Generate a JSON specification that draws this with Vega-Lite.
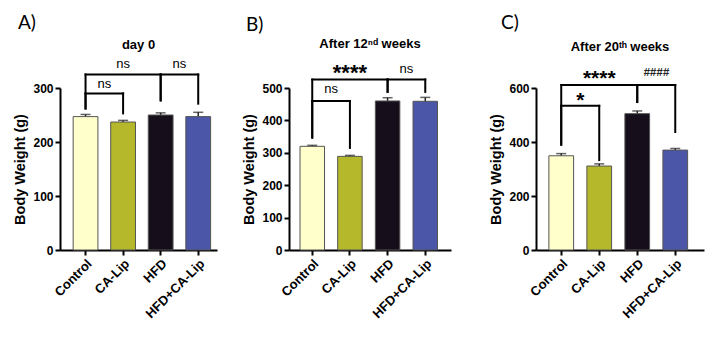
{
  "$schema": "https://vega.github.io/schema/vega-lite/v6.json",
  "background": "white",
  "padding": {"left": 12, "top": 13, "right": 5, "bottom": 5},
  "config": {
    "font": "Liberation Sans",
    "view": {"stroke": null},
    "axis": {"domainColor": "black", "domainWidth": 2, "tickColor": "black", "tickWidth": 2, "tickSize": 5, "labelFont": "Liberation Sans", "labelFontWeight": "bold", "labelFontSize": 12, "labelColor": "black", "labelPadding": 2, "labelOverlap": false, "titleFont": "Liberation Sans", "titleFontWeight": "bold", "titleFontSize": 14.5, "titleColor": "black", "titlePadding": 5, "grid": false},
    "axisX": {"labelAngle": -45, "title": null, "labelFontSize": 13}
  },
  "datasets": {
    "bars": [
      {"panel": "A", "group": "Control", "mean": 247, "err": 4},
      {"panel": "A", "group": "CA-Lip", "mean": 237, "err": 3},
      {"panel": "A", "group": "HFD", "mean": 250, "err": 4},
      {"panel": "A", "group": "HFD+CA-Lip", "mean": 247, "err": 8},
      {"panel": "B", "group": "Control", "mean": 320, "err": 3},
      {"panel": "B", "group": "CA-Lip", "mean": 289, "err": 3},
      {"panel": "B", "group": "HFD", "mean": 460, "err": 10},
      {"panel": "B", "group": "HFD+CA-Lip", "mean": 459, "err": 12},
      {"panel": "C", "group": "Control", "mean": 349, "err": 8},
      {"panel": "C", "group": "CA-Lip", "mean": 311, "err": 8},
      {"panel": "C", "group": "HFD", "mean": 505, "err": 10},
      {"panel": "C", "group": "HFD+CA-Lip", "mean": 370, "err": 6}
    ],
    "brackets": [
      {"panel": "A", "from": "Control", "to": "HFD", "y": 325, "yl": 262, "yr": 277, "label": "ns", "ly": 345, "span": 2},
      {"panel": "A", "from": "Control", "to": "CA-Lip", "y": 290, "yl": 262, "yr": 253, "label": "ns", "ly": 308, "span": 1},
      {"panel": "A", "from": "HFD", "to": "HFD+CA-Lip", "y": 325, "yl": 277, "yr": 271, "label": "ns", "ly": 345, "span": 1},
      {"panel": "B", "from": "Control", "to": "HFD", "y": 526, "yl": 349, "yr": 488, "label": "****", "ly": 562, "span": 2},
      {"panel": "B", "from": "Control", "to": "CA-Lip", "y": 460, "yl": 346, "yr": 315, "label": "ns", "ly": 496, "span": 1},
      {"panel": "B", "from": "HFD", "to": "HFD+CA-Lip", "y": 526, "yl": 488, "yr": 488, "label": "ns", "ly": 560, "span": 1},
      {"panel": "C", "from": "Control", "to": "HFD", "y": 611, "yl": 390, "yr": 548, "label": "****", "ly": 652, "span": 2},
      {"panel": "C", "from": "Control", "to": "CA-Lip", "y": 534, "yl": 390, "yr": 333, "label": "*", "ly": 570, "span": 1},
      {"panel": "C", "from": "HFD", "to": "HFD+CA-Lip", "y": 611, "yl": 548, "yr": 437, "label": "####", "ly": 654, "span": 1}
    ]
  },
  "spacing": 24,
  "hconcat": [
    {
      "title": {"text": "A)", "anchor": "start", "font": "Lato", "fontSize": 19, "fontWeight": "normal", "color": "black", "offset": 6, "dx": 5},
      "vconcat": [
        {
          "title": {"text": "day 0", "fontSize": 13, "fontWeight": "bold", "color": "black", "frame": "group", "baseline": "alphabetic", "offset": -4},
          "width": 157,
          "height": 162,
          "layer": [
            {
              "data": {"name": "bars"},
              "transform": [{"filter": "datum.panel === 'A'"}],
              "mark": {"type": "errorbar", "ticks": {"size": 10, "thickness": 1.5, "color": "#222"}, "rule": {"strokeWidth": 1.5, "color": "#222"}},
              "encoding": {
                "x": {"field": "group", "type": "nominal", "scale": {"domain": ["Control", "CA-Lip", "HFD", "HFD+CA-Lip"], "paddingInner": 0, "paddingOuter": 0.09, "align": 1}, "axis": {"title": null}},
                "y": {"field": "mean", "type": "quantitative", "scale": {"domain": [0, 300], "nice": false}, "axis": {"title": "Body Weight (g)", "values": [0, 100, 200, 300]}},
                "yError": {"field": "err"}
              }
            },
            {
              "data": {"name": "bars"},
              "transform": [{"filter": "datum.panel === 'A'"}],
              "mark": {"type": "bar", "width": {"band": 0.66}, "stroke": "#555", "strokeWidth": 1},
              "encoding": {
                "x": {"field": "group", "type": "nominal", "scale": {"domain": ["Control", "CA-Lip", "HFD", "HFD+CA-Lip"], "paddingInner": 0, "paddingOuter": 0.09, "align": 1}, "axis": {"title": null}},
                "y": {"field": "mean", "type": "quantitative", "scale": {"domain": [0, 300], "nice": false}, "axis": {"title": "Body Weight (g)", "values": [0, 100, 200, 300]}},
                "fill": {"field": "group", "type": "nominal", "scale": {"domain": ["Control", "CA-Lip", "HFD", "HFD+CA-Lip"], "range": ["#FFFFCC", "#B5B82B", "#160E1A", "#4B56A8"]}, "legend": null}
              }
            },
            {
              "data": {"name": "brackets"},
              "transform": [{"filter": "datum.panel === 'A'"}],
              "mark": {"type": "rule", "strokeWidth": 2, "color": "black", "strokeCap": "square"},
              "encoding": {
                "x": {"field": "from", "type": "nominal", "scale": {"domain": ["Control", "CA-Lip", "HFD", "HFD+CA-Lip"], "paddingInner": 0, "paddingOuter": 0.09, "align": 1}, "axis": {"title": null}},
                "x2": {"field": "to"},
                "y": {"field": "y", "type": "quantitative", "scale": {"domain": [0, 300], "nice": false}, "axis": {"title": "Body Weight (g)", "values": [0, 100, 200, 300]}}
              }
            },
            {
              "data": {"name": "brackets"},
              "transform": [{"filter": "datum.panel === 'A'"}],
              "mark": {"type": "rule", "strokeWidth": 2, "color": "black", "strokeCap": "square"},
              "encoding": {
                "x": {"field": "from", "type": "nominal", "scale": {"domain": ["Control", "CA-Lip", "HFD", "HFD+CA-Lip"], "paddingInner": 0, "paddingOuter": 0.09, "align": 1}, "axis": {"title": null}},
                "y": {"field": "y", "type": "quantitative", "scale": {"domain": [0, 300], "nice": false}, "axis": {"title": "Body Weight (g)", "values": [0, 100, 200, 300]}},
                "y2": {"field": "yl"}
              }
            },
            {
              "data": {"name": "brackets"},
              "transform": [{"filter": "datum.panel === 'A'"}],
              "mark": {"type": "rule", "strokeWidth": 2, "color": "black", "strokeCap": "square"},
              "encoding": {
                "x": {"field": "to", "type": "nominal", "scale": {"domain": ["Control", "CA-Lip", "HFD", "HFD+CA-Lip"], "paddingInner": 0, "paddingOuter": 0.09, "align": 1}, "axis": {"title": null}},
                "y": {"field": "y", "type": "quantitative", "scale": {"domain": [0, 300], "nice": false}, "axis": {"title": "Body Weight (g)", "values": [0, 100, 200, 300]}},
                "y2": {"field": "yr"}
              }
            },
            {
              "data": {"name": "brackets"},
              "transform": [{"filter": "datum.panel === 'A' && datum.span === 1"}],
              "mark": {"type": "text", "fontSize": 13, "color": "black", "baseline": "middle"},
              "encoding": {
                "x": {"field": "to", "type": "nominal", "bandPosition": 0, "scale": {"domain": ["Control", "CA-Lip", "HFD", "HFD+CA-Lip"], "paddingInner": 0, "paddingOuter": 0.09, "align": 1}, "axis": {"title": null}},
                "y": {"field": "ly", "type": "quantitative", "scale": {"domain": [0, 300], "nice": false}, "axis": {"title": "Body Weight (g)", "values": [0, 100, 200, 300]}},
                "text": {"field": "label"}
              }
            },
            {
              "data": {"name": "brackets"},
              "transform": [{"filter": "datum.panel === 'A' && datum.span === 2"}],
              "mark": {"type": "text", "fontSize": 13, "color": "black", "baseline": "middle"},
              "encoding": {
                "x": {"field": "from", "type": "nominal", "bandPosition": 1.5, "scale": {"domain": ["Control", "CA-Lip", "HFD", "HFD+CA-Lip"], "paddingInner": 0, "paddingOuter": 0.09, "align": 1}, "axis": {"title": null}},
                "y": {"field": "ly", "type": "quantitative", "scale": {"domain": [0, 300], "nice": false}, "axis": {"title": "Body Weight (g)", "values": [0, 100, 200, 300]}},
                "text": {"field": "label"}
              }
            }
          ]
        }
      ]
    },
    {
      "spacing": 37,
      "hconcat": [
        {
          "title": {"text": "B)", "anchor": "start", "font": "Lato", "fontSize": 19, "fontWeight": "normal", "color": "black", "offset": 3, "dx": 4},
          "vconcat": [
            {
              "title": {"text": "After 12ⁿᵈ weeks", "fontSize": 13, "fontWeight": "bold", "color": "black", "frame": "group", "baseline": "alphabetic", "offset": 1},
              "width": 162,
              "height": 162,
              "layer": [
                {
                  "data": {"name": "bars"},
                  "transform": [{"filter": "datum.panel === 'B'"}],
                  "mark": {"type": "errorbar", "ticks": {"size": 10, "thickness": 1.5, "color": "#222"}, "rule": {"strokeWidth": 1.5, "color": "#222"}},
                  "encoding": {
                    "x": {"field": "group", "type": "nominal", "scale": {"domain": ["Control", "CA-Lip", "HFD", "HFD+CA-Lip"], "paddingInner": 0, "paddingOuter": 0.15, "align": 0.39}, "axis": {"title": null}},
                    "y": {"field": "mean", "type": "quantitative", "scale": {"domain": [0, 500], "nice": false}, "axis": {"title": "Body Weight (g)", "values": [0, 100, 200, 300, 400, 500]}},
                    "yError": {"field": "err"}
                  }
                },
                {
                  "data": {"name": "bars"},
                  "transform": [{"filter": "datum.panel === 'B'"}],
                  "mark": {"type": "bar", "width": {"band": 0.65}, "stroke": "#555", "strokeWidth": 1},
                  "encoding": {
                    "x": {"field": "group", "type": "nominal", "scale": {"domain": ["Control", "CA-Lip", "HFD", "HFD+CA-Lip"], "paddingInner": 0, "paddingOuter": 0.15, "align": 0.39}, "axis": {"title": null}},
                    "y": {"field": "mean", "type": "quantitative", "scale": {"domain": [0, 500], "nice": false}, "axis": {"title": "Body Weight (g)", "values": [0, 100, 200, 300, 400, 500]}},
                    "fill": {"field": "group", "type": "nominal", "scale": {"domain": ["Control", "CA-Lip", "HFD", "HFD+CA-Lip"], "range": ["#FFFFCC", "#B5B82B", "#160E1A", "#4B56A8"]}, "legend": null}
                  }
                },
                {
                  "data": {"name": "brackets"},
                  "transform": [{"filter": "datum.panel === 'B'"}],
                  "mark": {"type": "rule", "strokeWidth": 2, "color": "black", "strokeCap": "square"},
                  "encoding": {
                    "x": {"field": "from", "type": "nominal", "scale": {"domain": ["Control", "CA-Lip", "HFD", "HFD+CA-Lip"], "paddingInner": 0, "paddingOuter": 0.15, "align": 0.39}, "axis": {"title": null}},
                    "x2": {"field": "to"},
                    "y": {"field": "y", "type": "quantitative", "scale": {"domain": [0, 500], "nice": false}, "axis": {"title": "Body Weight (g)", "values": [0, 100, 200, 300, 400, 500]}}
                  }
                },
                {
                  "data": {"name": "brackets"},
                  "transform": [{"filter": "datum.panel === 'B'"}],
                  "mark": {"type": "rule", "strokeWidth": 2, "color": "black", "strokeCap": "square"},
                  "encoding": {
                    "x": {"field": "from", "type": "nominal", "scale": {"domain": ["Control", "CA-Lip", "HFD", "HFD+CA-Lip"], "paddingInner": 0, "paddingOuter": 0.15, "align": 0.39}, "axis": {"title": null}},
                    "y": {"field": "y", "type": "quantitative", "scale": {"domain": [0, 500], "nice": false}, "axis": {"title": "Body Weight (g)", "values": [0, 100, 200, 300, 400, 500]}},
                    "y2": {"field": "yl"}
                  }
                },
                {
                  "data": {"name": "brackets"},
                  "transform": [{"filter": "datum.panel === 'B'"}],
                  "mark": {"type": "rule", "strokeWidth": 2, "color": "black", "strokeCap": "square"},
                  "encoding": {
                    "x": {"field": "to", "type": "nominal", "scale": {"domain": ["Control", "CA-Lip", "HFD", "HFD+CA-Lip"], "paddingInner": 0, "paddingOuter": 0.15, "align": 0.39}, "axis": {"title": null}},
                    "y": {"field": "y", "type": "quantitative", "scale": {"domain": [0, 500], "nice": false}, "axis": {"title": "Body Weight (g)", "values": [0, 100, 200, 300, 400, 500]}},
                    "y2": {"field": "yr"}
                  }
                },
                {
                  "data": {"name": "brackets"},
                  "transform": [{"filter": "datum.panel === 'B' && datum.span === 1"}],
                  "mark": {"type": "text", "fontSize": 13, "color": "black", "baseline": "middle"},
                  "encoding": {
                    "x": {"field": "to", "type": "nominal", "bandPosition": 0, "scale": {"domain": ["Control", "CA-Lip", "HFD", "HFD+CA-Lip"], "paddingInner": 0, "paddingOuter": 0.15, "align": 0.39}, "axis": {"title": null}},
                    "y": {"field": "ly", "type": "quantitative", "scale": {"domain": [0, 500], "nice": false}, "axis": {"title": "Body Weight (g)", "values": [0, 100, 200, 300, 400, 500]}},
                    "text": {"field": "label"}
                  }
                },
                {
                  "data": {"name": "brackets"},
                  "transform": [{"filter": "datum.panel === 'B' && datum.span === 2"}],
                  "mark": {"type": "text", "fontSize": 22, "fontWeight": "bold", "color": "black", "baseline": "middle", "dy": 5},
                  "encoding": {
                    "x": {"field": "from", "type": "nominal", "bandPosition": 1.5, "scale": {"domain": ["Control", "CA-Lip", "HFD", "HFD+CA-Lip"], "paddingInner": 0, "paddingOuter": 0.15, "align": 0.39}, "axis": {"title": null}},
                    "y": {"field": "ly", "type": "quantitative", "scale": {"domain": [0, 500], "nice": false}, "axis": {"title": "Body Weight (g)", "values": [0, 100, 200, 300, 400, 500]}},
                    "text": {"field": "label"}
                  }
                }
              ]
            }
          ]
        },
        {
          "title": {"text": "C)", "anchor": "start", "font": "Lato", "fontSize": 19, "fontWeight": "normal", "color": "black", "offset": 8, "dx": 12},
          "vconcat": [
            {
              "title": {"text": "After 20ᵗʰ weeks", "fontSize": 13, "fontWeight": "bold", "color": "black", "frame": "group", "baseline": "alphabetic", "offset": 3},
              "width": 168,
              "height": 162,
              "layer": [
                {
                  "data": {"name": "bars"},
                  "transform": [{"filter": "datum.panel === 'C'"}],
                  "mark": {"type": "errorbar", "ticks": {"size": 10, "thickness": 1.5, "color": "#222"}, "rule": {"strokeWidth": 1.5, "color": "#222"}},
                  "encoding": {
                    "x": {"field": "group", "type": "nominal", "scale": {"domain": ["Control", "CA-Lip", "HFD", "HFD+CA-Lip"], "paddingInner": 0, "paddingOuter": 0.21, "align": 0.39}, "axis": {"title": null}},
                    "y": {"field": "mean", "type": "quantitative", "scale": {"domain": [0, 600], "nice": false}, "axis": {"title": "Body Weight (g)", "values": [0, 200, 400, 600]}},
                    "yError": {"field": "err"}
                  }
                },
                {
                  "data": {"name": "bars"},
                  "transform": [{"filter": "datum.panel === 'C'"}],
                  "mark": {"type": "bar", "width": {"band": 0.65}, "stroke": "#555", "strokeWidth": 1},
                  "encoding": {
                    "x": {"field": "group", "type": "nominal", "scale": {"domain": ["Control", "CA-Lip", "HFD", "HFD+CA-Lip"], "paddingInner": 0, "paddingOuter": 0.21, "align": 0.39}, "axis": {"title": null}},
                    "y": {"field": "mean", "type": "quantitative", "scale": {"domain": [0, 600], "nice": false}, "axis": {"title": "Body Weight (g)", "values": [0, 200, 400, 600]}},
                    "fill": {"field": "group", "type": "nominal", "scale": {"domain": ["Control", "CA-Lip", "HFD", "HFD+CA-Lip"], "range": ["#FFFFCC", "#B5B82B", "#160E1A", "#4B56A8"]}, "legend": null}
                  }
                },
                {
                  "data": {"name": "brackets"},
                  "transform": [{"filter": "datum.panel === 'C'"}],
                  "mark": {"type": "rule", "strokeWidth": 2, "color": "black", "strokeCap": "square"},
                  "encoding": {
                    "x": {"field": "from", "type": "nominal", "scale": {"domain": ["Control", "CA-Lip", "HFD", "HFD+CA-Lip"], "paddingInner": 0, "paddingOuter": 0.21, "align": 0.39}, "axis": {"title": null}},
                    "x2": {"field": "to"},
                    "y": {"field": "y", "type": "quantitative", "scale": {"domain": [0, 600], "nice": false}, "axis": {"title": "Body Weight (g)", "values": [0, 200, 400, 600]}}
                  }
                },
                {
                  "data": {"name": "brackets"},
                  "transform": [{"filter": "datum.panel === 'C'"}],
                  "mark": {"type": "rule", "strokeWidth": 2, "color": "black", "strokeCap": "square"},
                  "encoding": {
                    "x": {"field": "from", "type": "nominal", "scale": {"domain": ["Control", "CA-Lip", "HFD", "HFD+CA-Lip"], "paddingInner": 0, "paddingOuter": 0.21, "align": 0.39}, "axis": {"title": null}},
                    "y": {"field": "y", "type": "quantitative", "scale": {"domain": [0, 600], "nice": false}, "axis": {"title": "Body Weight (g)", "values": [0, 200, 400, 600]}},
                    "y2": {"field": "yl"}
                  }
                },
                {
                  "data": {"name": "brackets"},
                  "transform": [{"filter": "datum.panel === 'C'"}],
                  "mark": {"type": "rule", "strokeWidth": 2, "color": "black", "strokeCap": "square"},
                  "encoding": {
                    "x": {"field": "to", "type": "nominal", "scale": {"domain": ["Control", "CA-Lip", "HFD", "HFD+CA-Lip"], "paddingInner": 0, "paddingOuter": 0.21, "align": 0.39}, "axis": {"title": null}},
                    "y": {"field": "y", "type": "quantitative", "scale": {"domain": [0, 600], "nice": false}, "axis": {"title": "Body Weight (g)", "values": [0, 200, 400, 600]}},
                    "y2": {"field": "yr"}
                  }
                },
                {
                  "data": {"name": "brackets"},
                  "transform": [{"filter": "datum.panel === 'C' && datum.label === '*'"}],
                  "mark": {"type": "text", "fontSize": 21, "fontWeight": "bold", "color": "black", "baseline": "middle", "dy": 5},
                  "encoding": {
                    "x": {"field": "to", "type": "nominal", "bandPosition": 0, "scale": {"domain": ["Control", "CA-Lip", "HFD", "HFD+CA-Lip"], "paddingInner": 0, "paddingOuter": 0.21, "align": 0.39}, "axis": {"title": null}},
                    "y": {"field": "ly", "type": "quantitative", "scale": {"domain": [0, 600], "nice": false}, "axis": {"title": "Body Weight (g)", "values": [0, 200, 400, 600]}},
                    "text": {"field": "label"}
                  }
                },
                {
                  "data": {"name": "brackets"},
                  "transform": [{"filter": "datum.panel === 'C' && datum.label === '####'"}],
                  "mark": {"type": "text", "fontSize": 11.5, "fontWeight": "bold", "fontStyle": "italic", "color": "#222", "baseline": "middle"},
                  "encoding": {
                    "x": {"field": "to", "type": "nominal", "bandPosition": 0, "scale": {"domain": ["Control", "CA-Lip", "HFD", "HFD+CA-Lip"], "paddingInner": 0, "paddingOuter": 0.21, "align": 0.39}, "axis": {"title": null}},
                    "y": {"field": "ly", "type": "quantitative", "scale": {"domain": [0, 600], "nice": false}, "axis": {"title": "Body Weight (g)", "values": [0, 200, 400, 600]}},
                    "text": {"field": "label"}
                  }
                },
                {
                  "data": {"name": "brackets"},
                  "transform": [{"filter": "datum.panel === 'C' && datum.span === 2"}],
                  "mark": {"type": "text", "fontSize": 21, "fontWeight": "bold", "color": "black", "baseline": "middle", "dy": 5},
                  "encoding": {
                    "x": {"field": "from", "type": "nominal", "bandPosition": 1.5, "scale": {"domain": ["Control", "CA-Lip", "HFD", "HFD+CA-Lip"], "paddingInner": 0, "paddingOuter": 0.21, "align": 0.39}, "axis": {"title": null}},
                    "y": {"field": "ly", "type": "quantitative", "scale": {"domain": [0, 600], "nice": false}, "axis": {"title": "Body Weight (g)", "values": [0, 200, 400, 600]}},
                    "text": {"field": "label"}
                  }
                }
              ]
            }
          ]
        }
      ]
    }
  ]
}
